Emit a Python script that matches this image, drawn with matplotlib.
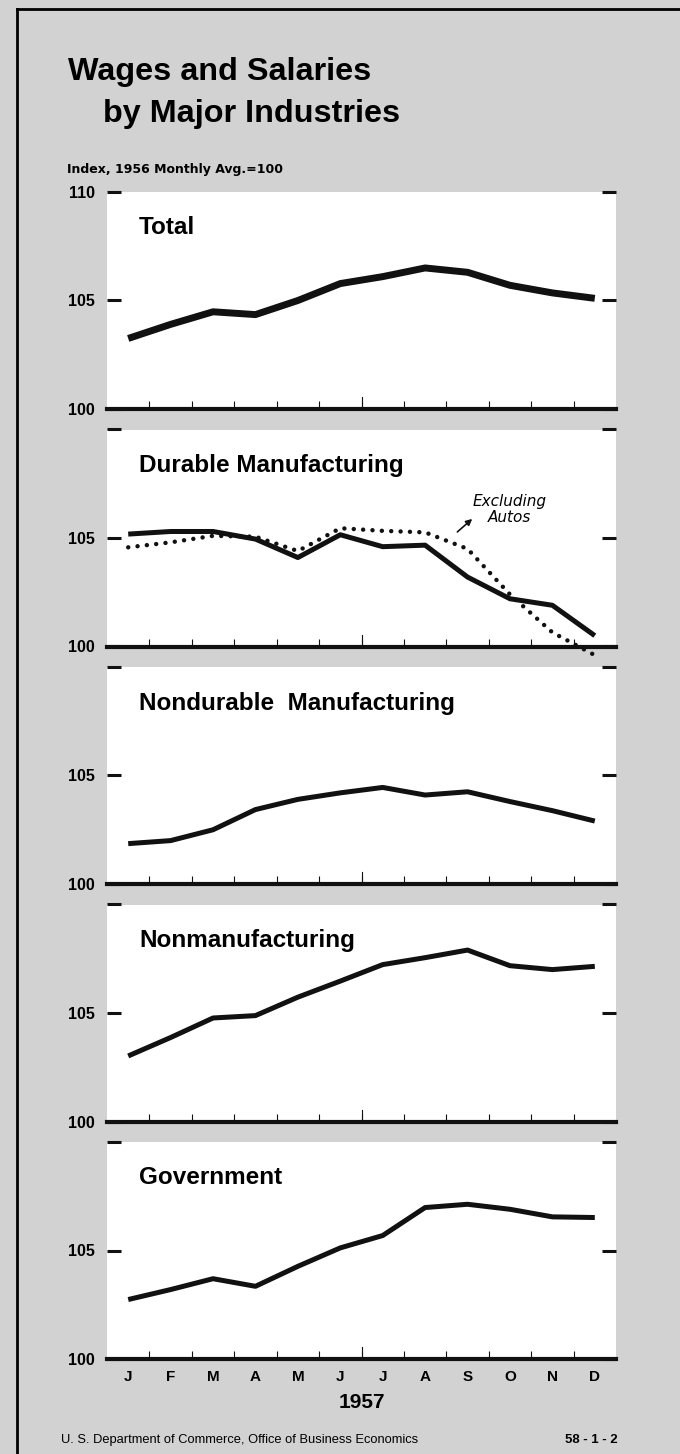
import matplotlib
matplotlib.use('Agg')
import matplotlib.pyplot as plt
from matplotlib.lines import Line2D

months = ['J', 'F', 'M', 'A', 'M', 'J', 'J', 'A', 'S', 'O', 'N', 'D']

total = [103.25, 103.9, 104.48, 104.35, 105.0, 105.78, 106.1, 106.5, 106.3, 105.7, 105.35, 105.1]
durable = [105.18, 105.3, 105.3, 104.95, 104.1, 105.15, 104.6, 104.67, 103.2, 102.2, 101.9, 100.5]
durable_ex_autos = [104.57, 104.8, 105.1, 105.06, 104.4, 105.45, 105.33, 105.26, 104.5, 102.4, 100.65, 99.6]
nondurable = [101.86, 102.0, 102.5, 103.43, 103.9, 104.2, 104.45, 104.1, 104.25, 103.8, 103.38, 102.9]
nonmanufacturing = [103.02, 103.87, 104.77, 104.88, 105.73, 106.47, 107.23, 107.55, 107.9, 107.18, 107.0, 107.15]
government = [102.74, 103.2, 103.7, 103.35, 104.27, 105.12, 105.69, 106.98, 107.13, 106.9, 106.55, 106.52]

panel_titles = ['Total', 'Durable Manufacturing', 'Nondurable  Manufacturing',
                'Nonmanufacturing', 'Government']
panel_series = [total, durable, nondurable, nonmanufacturing, government]
y_ticks = [100, 105, 110]

plt.rcParams['font.family'] = 'Liberation Sans'

W, H = 680, 1454
fig = plt.figure(figsize=(W / 100, H / 100), dpi=100, facecolor='#d2d2d2')

# frame lines (left and top)
fig.add_artist(Line2D([17 / W, 17 / W], [0, 1 - 9 / H], color='black', lw=2))
fig.add_artist(Line2D([17 / W, 1], [1 - 9 / H, 1 - 9 / H], color='black', lw=2))

fig.text(68 / W, 1 - 80 / H, 'Wages and Salaries', fontsize=23.3, fontweight='bold',
         va='baseline', ha='left')
fig.text(103 / W, 1 - 122 / H, 'by Major Industries', fontsize=23.3, fontweight='bold',
         va='baseline', ha='left')
fig.text(67 / W, 1 - 170 / H, 'Index, 1956 Monthly Avg.=100', fontsize=9,
         family='DejaVu Sans', fontweight='bold', va='center', ha='left')

x = list(range(len(months)))
left_px, width_px = 107, 509
panel_h = 217
step = 237.5
first_top = 192

for k, (title, vals) in enumerate(zip(panel_titles, panel_series)):
    top = first_top + step * k
    ax = fig.add_axes([left_px / W, 1 - (top + panel_h) / H, width_px / W, panel_h / H])
    ax.set_facecolor('white')
    ax.set_xlim(-0.5, len(months) - 0.5)
    ax.set_ylim(100, 110)
    for s in ['top', 'left', 'right']:
        ax.spines[s].set_visible(False)
    ax.spines['bottom'].set_linewidth(3)
    ax.spines['bottom'].set_color('#111111')

    ax.set_yticks(y_ticks)
    ax.set_yticklabels(['100', '105', '110' if k == 0 else ''])
    ax.tick_params(axis='y', direction='in', length=10, width=2.2, left=True,
                   right=True, labelsize=11.5, pad=9, color='#111111')

    ax.set_xticks(x)
    last = k == len(panel_titles) - 1
    ax.set_xticklabels(months if last else [])
    ax.tick_params(axis='x', which='major', length=0, pad=8, labelsize=11)
    ax.set_xticks([i + 0.5 for i in x[:-1]], minor=True)
    ax.tick_params(axis='x', which='minor', direction='in', length=6, width=0.8,
                   color='#111111')
    mid = (len(months) - 1) / 2
    ax.plot([mid, mid], [0, 12 / panel_h], transform=ax.get_xaxis_transform(),
            color='#111111', lw=0.8)
    for lab in ax.get_xticklabels() + ax.get_yticklabels():
        lab.set_fontweight('bold')

    lw = 5 if k == 0 else 3.6
    ax.plot(x, vals, color='#111111', lw=lw, solid_joinstyle='round',
            solid_capstyle='butt', clip_on=False, zorder=3)
    if k == 1:
        ax.plot(x, durable_ex_autos, color='#111111', lw=3.2,
                linestyle=(0, (0.01, 2.1)), dash_capstyle='round',
                clip_on=False, zorder=4)
        ax.text(9.0, 106.3, 'Excluding\nAutos', fontsize=11, style='italic',
                family='DejaVu Sans', ha='center', va='center', linespacing=1.05)
        ax.annotate('', xy=(8.11, 105.88), xytext=(7.76, 105.28),
                    arrowprops=dict(arrowstyle='-|>', color='#111111', lw=1.2,
                                    mutation_scale=9, shrinkA=0, shrinkB=0))

    ax.text(0.063, 1 - 36 / panel_h, title, transform=ax.transAxes, fontsize=17.5,
            fontweight='bold', ha='left', va='center')

    if last:
        ax.text(0.5, -44 / panel_h, '1957', transform=ax.transAxes, fontsize=15,
                fontweight='bold', ha='center', va='center')

fig.text(61 / W, 1 - 1440 / H, 'U. S. Department of Commerce, Office of Business Economics',
         fontsize=9.3, ha='left', va='center')
fig.text(618 / W, 1 - 1440 / H, '58 - 1 - 2', fontsize=9.5, fontweight='bold',
         ha='right', va='center')

fig.savefig('out.png', dpi=100, facecolor=fig.get_facecolor())
